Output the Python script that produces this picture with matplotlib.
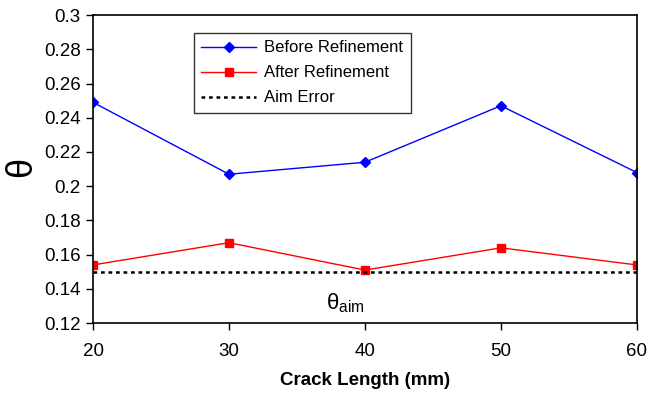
import matplotlib.pyplot as plt

# data
crack_length = [20, 30, 40, 50, 60]
before_refinement = [0.249, 0.207, 0.214, 0.247, 0.208]
after_refinement = [0.154, 0.167, 0.151, 0.164, 0.154]
aim_error = [0.15, 0.15, 0.15, 0.15, 0.15]

plt.rcParams["font.family"] = ["Liberation Sans", "DejaVu Sans"]

fig = plt.figure(figsize=(6.49, 3.96), dpi=100)
ax = fig.add_axes([0.1433, 0.184, 0.838, 0.778])

ax.plot(crack_length, before_refinement, color="#0000FF", marker="D",
        markersize=5, linewidth=1, label="Before Refinement")
ax.plot(crack_length, after_refinement, color="#FF0000", marker="s",
        markersize=6, linewidth=1, label="After Refinement")
ax.plot(crack_length, aim_error, color="black", linestyle=(0, (1.5, 1.5)),
        linewidth=1.8, label="Aim Error")

ax.set_xlim(20, 60)
ax.set_ylim(0.12, 0.3)
ax.set_xticks(crack_length)
ax.set_yticks([0.12, 0.14, 0.16, 0.18, 0.2, 0.22, 0.24, 0.26, 0.28, 0.3])
ax.set_yticklabels(["0.12", "0.14", "0.16", "0.18", "0.2", "0.22", "0.24",
                    "0.26", "0.28", "0.3"])
ax.tick_params(axis="both", direction="out", length=5, width=1,
               labelsize=13.5, pad=4)
ax.tick_params(axis="x", pad=9)
for s in ax.spines.values():
    s.set_linewidth(1.2)

ax.set_xlabel("Crack Length (mm)", fontsize=13.5, fontweight="bold", labelpad=9)
ax.set_ylabel(r"$\mathregular{\theta}$", fontsize=26, labelpad=2)
ax.text(40, 0.1316, r"$\mathregular{\theta_{aim}}$", fontsize=16,
        ha="right", va="center")

leg = ax.legend(loc="upper left", bbox_to_anchor=(0.185, 0.942), fontsize=12,
                frameon=True, fancybox=False, edgecolor="black",
                borderaxespad=0, borderpad=0.45, handlelength=3.3,
                handletextpad=0.5, labelspacing=0.6)
leg.get_frame().set_linewidth(1)

fig.savefig("out.png", dpi=100)
